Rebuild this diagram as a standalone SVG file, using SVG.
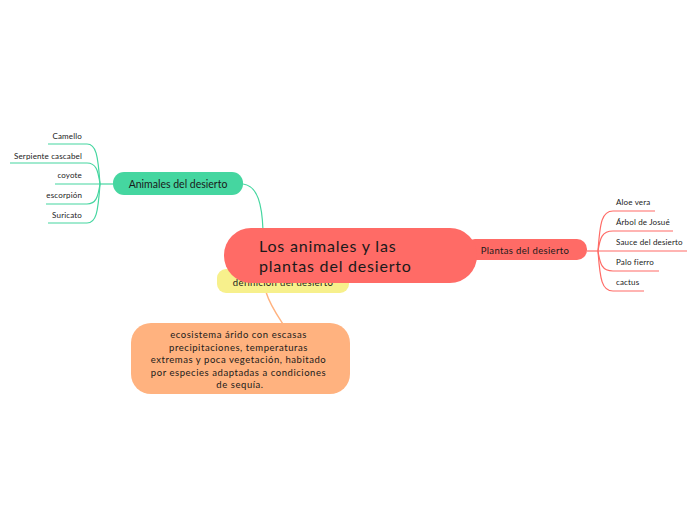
<svg xmlns="http://www.w3.org/2000/svg" width="697" height="520" viewBox="0 0 697 520">
<style>
text{font-family:Lato,"Noto Sans","DejaVu Sans",sans-serif;fill:#1a1a1a}
.leaf{font-size:8px;letter-spacing:0.15px}
.g{fill:none;stroke:#45D6A0;stroke-width:1.2}
.r{fill:none;stroke:#FF6B66;stroke-width:1.2}
.o{fill:none;stroke:#FFB27F;stroke-width:1.4}
</style>
<rect width="697" height="520" fill="#ffffff"/>
<g id="connectors">
<path class="g" d="M243,184 C258,186 262,205 263,230"/>
<path class="o" d="M266,292 C270,305 277,315 283,324"/>
<path class="r" d="M587,251 L598,251"/>
<path class="r" d="M598,251 C600,222 602,211 613,211 L655,211"/>
<path class="r" d="M598,251 C600,238 602,231 613,231 L673,231"/>
<path class="r" d="M598,251 L687,251"/>
<path class="r" d="M598,251 C600,264 602,271 613,271 L659,271"/>
<path class="r" d="M598,251 C600,280 602,291 613,291 L644,291"/>
<path class="g" d="M113,184 L100,184"/>
<path class="g" d="M100,184 C98,155 96,144 87,144 L48,144"/>
<path class="g" d="M100,184 C98,170 96,163 87,163 L10,163"/>
<path class="g" d="M100,184 L55,184"/>
<path class="g" d="M100,184 C98,197 96,204 87,204 L46,204"/>
<path class="g" d="M100,184 C98,213 96,223 87,223 L48,223"/>
</g>
<g id="leaf-camello"><text class="leaf" x="82" y="139" text-anchor="end">Camello</text></g>
<g id="leaf-serpiente"><text class="leaf" x="82" y="159" text-anchor="end">Serpiente cascabel</text></g>
<g id="leaf-coyote"><text class="leaf" x="82" y="178" text-anchor="end">coyote</text></g>
<g id="leaf-escorpion"><text class="leaf" x="82" y="198" text-anchor="end">escorpión</text></g>
<g id="leaf-suricato"><text class="leaf" x="82" y="218" text-anchor="end">Suricato</text></g>
<g id="leaf-aloe"><text class="leaf" x="616" y="205">Aloe vera</text></g>
<g id="leaf-arbol"><text class="leaf" x="616" y="225">Árbol de Josué</text></g>
<g id="leaf-sauce"><text class="leaf" x="616" y="245">Sauce del desierto</text></g>
<g id="leaf-palo"><text class="leaf" x="616" y="265">Palo fierro</text></g>
<g id="leaf-cactus"><text class="leaf" x="616" y="285">cactus</text></g>
<g id="animales">
<rect x="113" y="172" width="130" height="23" rx="11" fill="#45D6A0"/>
<text x="178" y="188" font-size="10.5" text-anchor="middle">Animales del desierto</text>
</g>
<g id="plantas">
<rect x="465" y="239" width="122" height="21" rx="10" fill="#FF6B66"/>
<text x="525" y="254" font-size="9.5" letter-spacing="0.35" text-anchor="middle">Plantas del desierto</text>
</g>
<g id="definicion">
<rect x="217" y="269" width="132" height="24" rx="9" fill="#F7F08C"/>
<text x="283" y="286" font-size="9.5" letter-spacing="0.35" text-anchor="middle">definición del desierto</text>
</g>
<g id="central">
<rect x="224" y="228" width="253" height="55" rx="27" fill="#FF6B66"/>
<text x="259" y="252" font-size="16" letter-spacing="0.8">Los animales y las</text>
<text x="259" y="272" font-size="16" letter-spacing="0.8">plantas del desierto</text>
</g>
<g id="descripcion">
<rect x="131" y="323" width="219" height="71" rx="20" fill="#FFB27F"/>
<text font-size="9.5" letter-spacing="0.55" text-anchor="middle">
<tspan x="240" y="338">ecosistema árido con escasas</tspan>
<tspan x="240" y="350.5">precipitaciones, temperaturas</tspan>
<tspan x="240" y="363">extremas y poca vegetación, habitado</tspan>
<tspan x="240" y="375.5">por especies adaptadas a condiciones</tspan>
<tspan x="240" y="388">de sequía.</tspan>
</text>
</g>
</svg>
